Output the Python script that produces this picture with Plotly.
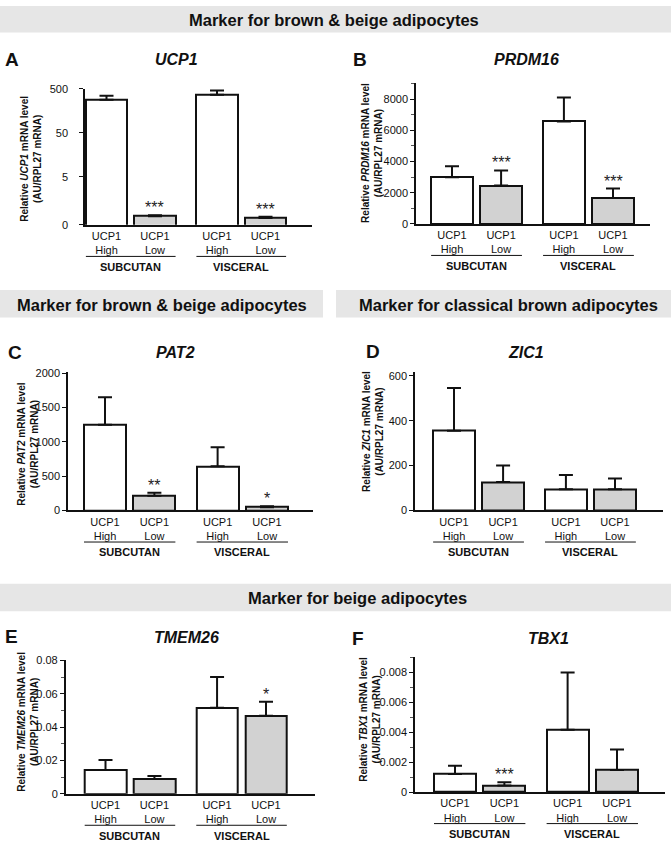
import math
import plotly.graph_objects as go

# ---------------- data ----------------
categories = ["UCP1<br>High", "UCP1<br>Low", "UCP1<br>High", "UCP1<br>Low"]
depots = ["SUBCUTAN", "VISCERAL"]
bar_colors = ["#ffffff", "#d2d2d2", "#ffffff", "#d2d2d2"]

banner_texts = ["Marker for brown & beige adipocytes",
                "Marker for brown & beige adipocytes",
                "Marker for classical brown adipocytes",
                "Marker for beige adipocytes"]

panel_letters = ["A", "B", "C", "D", "E", "F"]
genes = ["UCP1", "PRDM16", "PAT2", "ZIC1", "TMEM26", "TBX1"]

ucp1_mean = [283, 0.63, 366, 0.57]
ucp1_err = [65, 0.03, 92, 0.04]
ucp1_sig = ["", "***", "", "***"]
ucp1_tickvals = [0.4, 5, 50, 500]
ucp1_ticktext = ["0", "5", "50", "500"]

prdm16_mean = [3000, 2460, 6580, 1660]
prdm16_err = [700, 970, 1540, 610]
prdm16_sig = ["", "***", "", "***"]
prdm16_tickvals = [0, 2000, 4000, 6000, 8000]
prdm16_ticktext = ["0", "2000", "4000", "6000", "8000"]

pat2_mean = [1247, 216, 643, 48]
pat2_err = [403, 43, 278, 15]
pat2_sig = ["", "**", "", "*"]
pat2_tickvals = [0, 500, 1000, 1500, 2000]
pat2_ticktext = ["0", "500", "1000", "1500", "2000"]

zic1_mean = [355, 127, 95, 95]
zic1_err = [191, 73, 63, 47]
zic1_sig = ["", "", "", ""]
zic1_tickvals = [0, 200, 400, 600]
zic1_ticktext = ["0", "200", "400", "600"]

tmem26_mean = [0.0142, 0.0089, 0.0517, 0.0468]
tmem26_err = [0.0061, 0.0018, 0.0184, 0.0085]
tmem26_sig = ["", "", "", "*"]
tmem26_tickvals = [0, 0.02, 0.04, 0.06, 0.08]
tmem26_ticktext = ["0", "0.02", "0.04", "0.06", "0.08"]

tbx1_mean = [0.0012, 0.00043, 0.00416, 0.00147]
tbx1_err = [0.00055, 0.00023, 0.00382, 0.00136]
tbx1_sig = ["", "***", "", ""]
tbx1_tickvals = [0, 0.002, 0.004, 0.006, 0.008]
tbx1_ticktext = ["0", "0.002", "0.004", "0.006", "0.008"]

# ---------------- layout (pixels) ----------------
W, H = 671, 850
FONT = "Liberation Sans, Arial, Helvetica, sans-serif"
positions = [0, 1, 2.28, 3.28]
BAR_W = 0.85

panels = [
    dict(mean=ucp1_mean, err=ucp1_err, sig=ucp1_sig, tv=ucp1_tickvals, tt=ucp1_ticktext,
         L=85, R=312, top=84, bot=222, c0=106.5, c3=265.5, log=True, yr=[0.4, 500], minor=None,
         standoff=9, letter=(12, 54), title=(176, 54), ytitle=(31, 155)),
    dict(mean=prdm16_mean, err=prdm16_err, sig=prdm16_sig, tv=prdm16_tickvals, tt=prdm16_ticktext,
         L=416, R=650, top=78, bot=221, c0=452, c3=613, log=False, yr=[0, 9050], minor=1000,
         standoff=0, letter=(360, 54), title=(526, 54), ytitle=(372, 149)),
    dict(mean=pat2_mean, err=pat2_err, sig=pat2_sig, tv=pat2_tickvals, tt=pat2_ticktext,
         L=68, R=313, top=371, bot=511.7, c0=105, c3=267, log=False, yr=[0, 2020], minor=None,
         standoff=0, letter=(15, 351), title=(175, 351), ytitle=(28, 445)),
    dict(mean=zic1_mean, err=zic1_err, sig=zic1_sig, tv=zic1_tickvals, tt=zic1_ticktext,
         L=415, R=663, top=371.7, bot=511.7, c0=454, c3=615, log=False, yr=[0, 615], minor=None,
         standoff=0, letter=(373, 350), title=(526, 351), ytitle=(373, 432)),
    dict(mean=tmem26_mean, err=tmem26_err, sig=tmem26_sig, tv=tmem26_tickvals, tt=tmem26_ticktext,
         L=65.7, R=315, top=663.3, bot=799, c0=105.5, c3=266, log=False, yr=[0, 0.0804], minor=0.01,
         standoff=0, letter=(11, 640), title=(187, 641), ytitle=(28, 726)),
    dict(mean=tbx1_mean, err=tbx1_err, sig=tbx1_sig, tv=tbx1_tickvals, tt=tbx1_ticktext,
         L=415, R=665, top=660, bot=797.3, c0=455, c3=617, log=False, yr=[0, 0.00903], minor=0.001,
         standoff=0, letter=(358, 642), title=(548, 642), ytitle=(370, 723)),
]

banners = [
    dict(x0=0, x1=671, y0=0, y1=27, tx=334, ty=14.5),
    dict(x0=0, x1=323, y0=288, y1=316, tx=162, ty=303),
    dict(x0=336, x1=671, y0=288, y1=316, tx=508, ty=303),
    dict(x0=0, x1=671, y0=586, y1=614, tx=357, ty=600),
]


def px_x(p):
    return p / W


def px_y(p):
    return 1 - p / H


fig = go.Figure()
shapes = []
annotations = []

for b, txt in zip(banners, banner_texts):
    shapes.append(dict(type="rect", xref="paper", yref="paper", layer="below",
                       x0=px_x(b["x0"]), x1=px_x(b["x1"]), y0=px_y(b["y1"]), y1=px_y(b["y0"]),
                       fillcolor="#e6e6e6", line=dict(width=0)))
    annotations.append(dict(xref="paper", yref="paper", x=px_x(b["tx"]), y=px_y(b["ty"]),
                            text=f"<b>{txt}</b>", showarrow=False, xanchor="center", yanchor="middle",
                            font=dict(family=FONT, size=16.5, color="#111111")))

for i, (p, letter, gene) in enumerate(zip(panels, panel_letters, genes), start=1):
    xa = "x" if i == 1 else f"x{i}"
    ya = "y" if i == 1 else f"y{i}"
    s = (p["c3"] - p["c0"]) / (positions[3] - positions[0])
    xmin = positions[0] - (p["c0"] - p["L"]) / s
    xmax = positions[0] + (p["R"] - p["c0"]) / s

    fig.add_trace(go.Bar(
        x=positions, y=p["mean"], xaxis=xa, yaxis=ya, width=BAR_W,
        marker=dict(color=bar_colors, line=dict(color="#111111", width=2)),
        error_y=dict(type="data", array=p["err"], arrayminus=[0] * 4, symmetric=False,
                     color="#111111", thickness=2, width=7),
        showlegend=False, hoverinfo="skip",
    ))

    xkey = "xaxis" if i == 1 else f"xaxis{i}"
    ykey = "yaxis" if i == 1 else f"yaxis{i}"
    fig.update_layout({
        xkey: dict(domain=[px_x(p["L"]), px_x(p["R"])], anchor=ya, range=[xmin, xmax],
                   showline=True, linecolor="#111111", linewidth=2.2, showgrid=False, zeroline=False,
                   tickvals=positions, ticktext=categories, ticks="",
                   tickfont=dict(family=FONT, size=11, color="#111111"), fixedrange=True),
        ykey: dict(domain=[px_y(p["bot"]), px_y(p["top"])], anchor=xa,
                   type="log" if p["log"] else "linear",
                   range=[math.log10(p["yr"][0]), math.log10(p["yr"][1])] if p["log"] else p["yr"],
                   showline=True, linecolor="#111111", linewidth=1.5, showgrid=False, zeroline=False,
                   tickvals=p["tv"], ticktext=p["tt"], ticks="outside", ticklen=4, tickwidth=1,
                   tickcolor="#111111", ticklabelstandoff=p["standoff"],
                   tickfont=dict(family=FONT, size=11, color="#111111"), fixedrange=True,
                   minor=dict(ticks="outside", ticklen=3, tickwidth=1, tickcolor="#555555",
                              dtick=p["minor"]) if p["minor"] else None),
    })

    # significance stars
    for pos, m, e, sg in zip(positions, p["mean"], p["err"], p["sig"]):
        if sg:
            yv = m + e
            annotations.append(dict(xref=xa, yref=ya, x=pos, y=math.log10(yv) if p["log"] else yv,
                                    text=sg, showarrow=False, xanchor="center", yanchor="bottom",
                                    yshift=-3, font=dict(family=FONT, size=16, color="#222222")))

    # depot underline and label
    for g, depot in enumerate(depots):
        a, bpos = positions[2 * g], positions[2 * g + 1]
        shapes.append(dict(type="line", xref=xa, yref="paper",
                           x0=a - BAR_W / 2, x1=bpos + BAR_W / 2,
                           y0=px_y(p["bot"] + 32), y1=px_y(p["bot"] + 32),
                           line=dict(color="#111111", width=1)))
        annotations.append(dict(xref=xa, yref="paper", x=(a + bpos) / 2, y=px_y(p["bot"] + 42.5),
                                text=f"<b>{depot}</b>", showarrow=False, xanchor="center",
                                yanchor="middle", font=dict(family=FONT, size=11, color="#111111")))

    # panel letter, title, y title
    annotations.append(dict(xref="paper", yref="paper", x=px_x(p["letter"][0]), y=px_y(p["letter"][1]),
                            text=f"<b>{letter}</b>", showarrow=False, xanchor="center", yanchor="middle",
                            font=dict(family=FONT, size=19, color="#111111")))
    annotations.append(dict(xref="paper", yref="paper", x=px_x(p["title"][0]), y=px_y(p["title"][1]),
                            text=f"<b><i>{gene}</i></b>", showarrow=False, xanchor="center",
                            yanchor="middle", font=dict(family=FONT, size=16, color="#111111")))
    annotations.append(dict(xref="paper", yref="paper", x=px_x(p["ytitle"][0]), y=px_y(p["ytitle"][1]),
                            text=f"<b>Relative <i>{gene}</i> mRNA level<br>(AU/RPL27 mRNA)</b>",
                            showarrow=False, xanchor="center", yanchor="middle", textangle=-90,
                            font=dict(family=FONT, size=10, color="#111111")))

fig.update_layout(
    width=W, height=H, margin=dict(l=0, r=0, t=0, b=0),
    paper_bgcolor="white", plot_bgcolor="white",
    shapes=shapes, annotations=annotations, bargap=0,
    font=dict(family=FONT),
)

fig.write_html("out.html", config={"displayModeBar": False},
               post_script="document.body.style.margin='0';document.body.style.overflow='hidden';")
